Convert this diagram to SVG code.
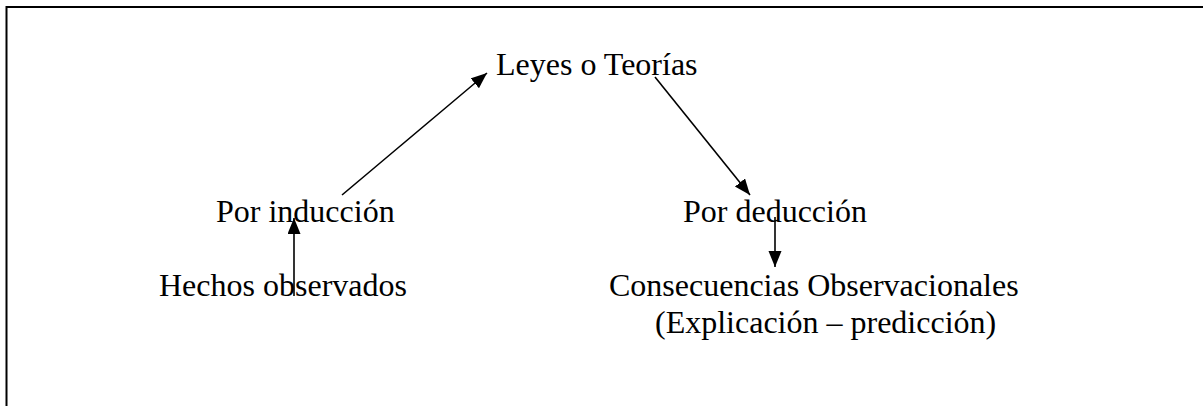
<svg xmlns="http://www.w3.org/2000/svg" width="1203" height="406" viewBox="0 0 1203 406">
<style>
.t{font-family:"Liberation Serif","Times New Roman",serif;font-size:32px;fill:#000}
.c{stroke:#000;stroke-width:1.6;fill:none}
</style>
<defs>
<marker id="ah" markerUnits="userSpaceOnUse" markerWidth="18" markerHeight="14" refX="16" refY="6.5" orient="auto">
<path d="M0,0 L16,6.5 L0,13 Z" fill="#000"/>
</marker>
</defs>
<rect width="1203" height="406" fill="#fff"/>
<path d="M6.5,406 V7 H1203" stroke="#000" stroke-width="2" fill="none"/>
<g id="connectors">
<line class="c" x1="342" y1="195" x2="487" y2="73" marker-end="url(#ah)"/>
<line class="c" x1="655" y1="77" x2="750" y2="195" marker-end="url(#ah)"/>
<line class="c" x1="294" y1="296" x2="294" y2="218" marker-end="url(#ah)"/>
<line class="c" x1="775" y1="217" x2="775" y2="267" marker-end="url(#ah)"/>
</g>
<g id="leyes"><text class="t" x="496" y="75">Leyes o Teorías</text></g>
<g id="induccion"><text class="t" x="216" y="222">Por inducción</text></g>
<g id="hechos"><text class="t" x="159" y="296">Hechos observados</text></g>
<g id="deduccion"><text class="t" x="683" y="222">Por deducción</text></g>
<g id="consecuencias"><text class="t" x="609" y="296">Consecuencias Observacionales</text><text class="t" x="655" y="333">(Explicación – predicción)</text></g>
</svg>
